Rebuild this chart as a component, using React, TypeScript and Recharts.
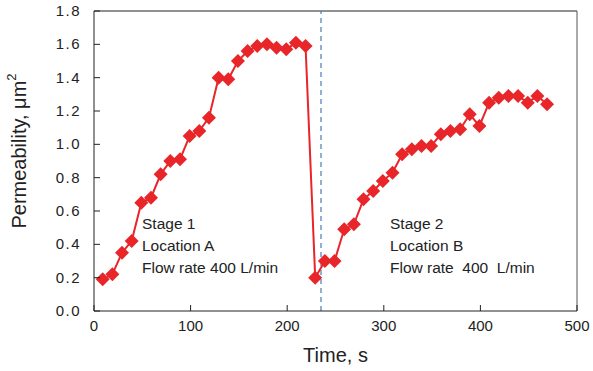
import React from 'react'
import { ComposedChart, Line, XAxis, YAxis, ReferenceLine } from 'recharts';

const times = [
  9, 19, 29, 39, 49, 59, 69, 79, 89, 99, 109, 119, 129, 139, 149, 159, 169, 179, 189, 199, 209, 219, 229,
  239, 249, 259, 269, 279, 289, 299, 309, 319, 329, 339, 349, 359, 369, 379, 389, 399, 409, 419, 429, 439, 449, 459, 469,
];
const permeability = [
  0.19, 0.22, 0.35, 0.42, 0.65, 0.68, 0.82, 0.90, 0.91, 1.05, 1.08, 1.16, 1.40, 1.39, 1.50, 1.56, 1.59, 1.60, 1.58, 1.57, 1.61, 1.59, 0.20,
  0.30, 0.30, 0.49, 0.52, 0.67, 0.72, 0.78, 0.83, 0.94, 0.97, 0.99, 0.99, 1.06, 1.08, 1.09, 1.18, 1.11, 1.25, 1.28, 1.29, 1.29, 1.25, 1.29, 1.24,
];
const xTicks = [0, 100, 200, 300, 400, 500];
const yTicks = [0, 0.2, 0.4, 0.6, 0.8, 1.0, 1.2, 1.4, 1.6, 1.8];
const stageSplit = 235;

const data = times.map((t, i) => ({ t, v: permeability[i] }));

const FONT = 'Liberation Sans, Arial, sans-serif';
const RED = '#e8262a';
const INK = '#222';

const Diamond = (props: any) => {
  const { cx, cy } = props;
  if (cx == null || cy == null) return null;
  const r = 7;
  return <path d={`M${cx},${cy - r}L${cx + r},${cy}L${cx},${cy + r}L${cx - r},${cy}Z`} fill={RED} />;
};

// ticks point into the plot, so draw them next to the labels
const YTick = (props: any) => {
  const { x, y, payload } = props;
  return (
    <g>
      <line x1={x + 12} y1={y} x2={x + 18} y2={y} stroke={INK} strokeWidth={1} />
      <text x={x - 1} y={y} dy={5} textAnchor="end" fontSize={15} fill={INK} fontFamily={FONT} letterSpacing={1.5}>
        {payload.value.toFixed(1)}
      </text>
    </g>
  );
};

const XTick = (props: any) => {
  const { x, y, payload } = props;
  return (
    <g>
      <line x1={x} y1={y - 8} x2={x} y2={y - 14} stroke={INK} strokeWidth={1} />
      <text x={x} y={y} dy={12} textAnchor="middle" fontSize={15} fill={INK} fontFamily={FONT}>
        {payload.value}
      </text>
    </g>
  );
};

const YLabel = (props: any) => {
  const vb = props.viewBox || {};
  const cx = 19;
  const cy = (vb.y ?? 11) + (vb.height ?? 300) / 2 - 10;
  return (
    <text x={cx} y={cy} transform={`rotate(-90, ${cx}, ${cy})`} textAnchor="middle" dominantBaseline="central" fontSize={20} fill={INK} fontFamily={FONT}>
      Permeability, μm<tspan dy={-8} fontSize={13}>2</tspan>
    </text>
  );
};

const noteStyle: React.CSSProperties = {
  position: 'absolute',
  fontFamily: FONT,
  fontSize: 15.5,
  color: INK,
  lineHeight: '22px',
  whiteSpace: 'pre',
};

export default function App() {
  return (
    <div style={{ position: 'absolute', left: 0, top: 0, width: 593, height: 371, background: '#fff' }}>
      <ComposedChart width={593} height={371} data={data} margin={{ top: 11, right: 16, bottom: 0, left: 34 }}>
        <XAxis
          dataKey="t"
          type="number"
          domain={[0, 500]}
          ticks={xTicks}
          tickLine={false}
          tickSize={0}
          tickMargin={8}
          tick={XTick}
          height={60}
          axisLine={{ stroke: INK }}
          label={{ value: 'Time, s', position: 'insideBottom', offset: 9, fontSize: 20, fill: INK, fontFamily: FONT }}
        />
        <YAxis
          type="number"
          domain={[0, 1.8]}
          ticks={yTicks}
          tickLine={false}
          tickSize={0}
          tickMargin={12}
          tick={YTick}
          width={60}
          axisLine={{ stroke: INK }}
          label={<YLabel />}
        />
        <ReferenceLine y={1.8} stroke={INK} />
        <ReferenceLine x={500} stroke="#555" />
        <ReferenceLine x={stageSplit} stroke="#4a7ab8" strokeDasharray="5 4" strokeWidth={1.2} />
        <Line
          dataKey="v"
          stroke={RED}
          strokeWidth={2}
          dot={<Diamond />}
          activeDot={false}
          isAnimationActive={false}
        />
      </ComposedChart>
      <div style={{ ...noteStyle, left: 142, top: 213 }}>{'Stage 1\nLocation A\nFlow rate 400 L/min'}</div>
      <div style={{ ...noteStyle, left: 390, top: 213 }}>{'Stage 2\nLocation B\nFlow rate  400  L/min'}</div>
    </div>
  );
}
